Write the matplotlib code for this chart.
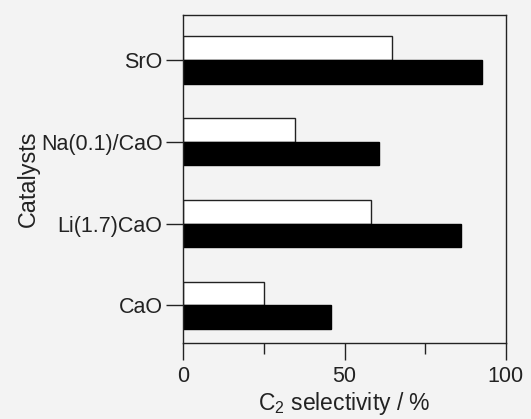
import matplotlib.pyplot as plt
import numpy as np

# catalysts from bottom to top
catalysts = ["CaO", "Li(1.7)CaO", "Na(0.1)/CaO", "SrO"]
# open bars (upper of each pair) and filled bars (lower)
open_vals = [25.0, 58.2, 34.7, 64.8]
filled_vals = [45.7, 86.2, 60.7, 92.6]

plt.rcParams['font.family'] = ['Liberation Sans', 'DejaVu Sans']
plt.rcParams['mathtext.fontset'] = 'custom'
plt.rcParams['mathtext.rm'] = 'Liberation Sans'
bg = "#f3f3f3"

fig = plt.figure(figsize=(5.31, 4.19), dpi=100, facecolor=bg)
ax = fig.add_axes([0.3452, 0.1821, 0.6072, 0.7828], facecolor=bg)

y = np.arange(len(catalysts))
h = 0.29
ax.barh(y, open_vals, height=h, align="edge", color="white",
        edgecolor="#222222", linewidth=1.0)
ax.barh(y - h, filled_vals, height=h, align="edge", color="black",
        edgecolor="black", linewidth=1.0)

ax.set_xlim(0, 100)
ax.set_ylim(-0.457, 3.554)
ax.set_xticks([0, 50, 100])
ax.set_xticks([25, 75], minor=True)
ax.set_yticks(y)
ax.set_yticklabels(catalysts)

ax.tick_params(axis="x", which="major", direction="out", length=12, width=1.0,
               labelsize=15.5, pad=5, colors="#222222")
ax.tick_params(axis="x", which="minor", direction="out", length=8, width=1.0,
               colors="#222222")
ax.tick_params(axis="y", direction="out", length=12, width=1.0,
               labelsize=15.5, pad=3, colors="#222222")

for s in ax.spines.values():
    s.set_linewidth(1.0)
    s.set_color("#222222")

ax.set_xlabel("C$_2$ selectivity / %", fontsize=16.5, color="#222222", labelpad=2)
ax.set_ylabel("Catalysts", fontsize=16.8, color="#222222", labelpad=0.5)

fig.savefig("out.png", dpi=100, facecolor=bg)
